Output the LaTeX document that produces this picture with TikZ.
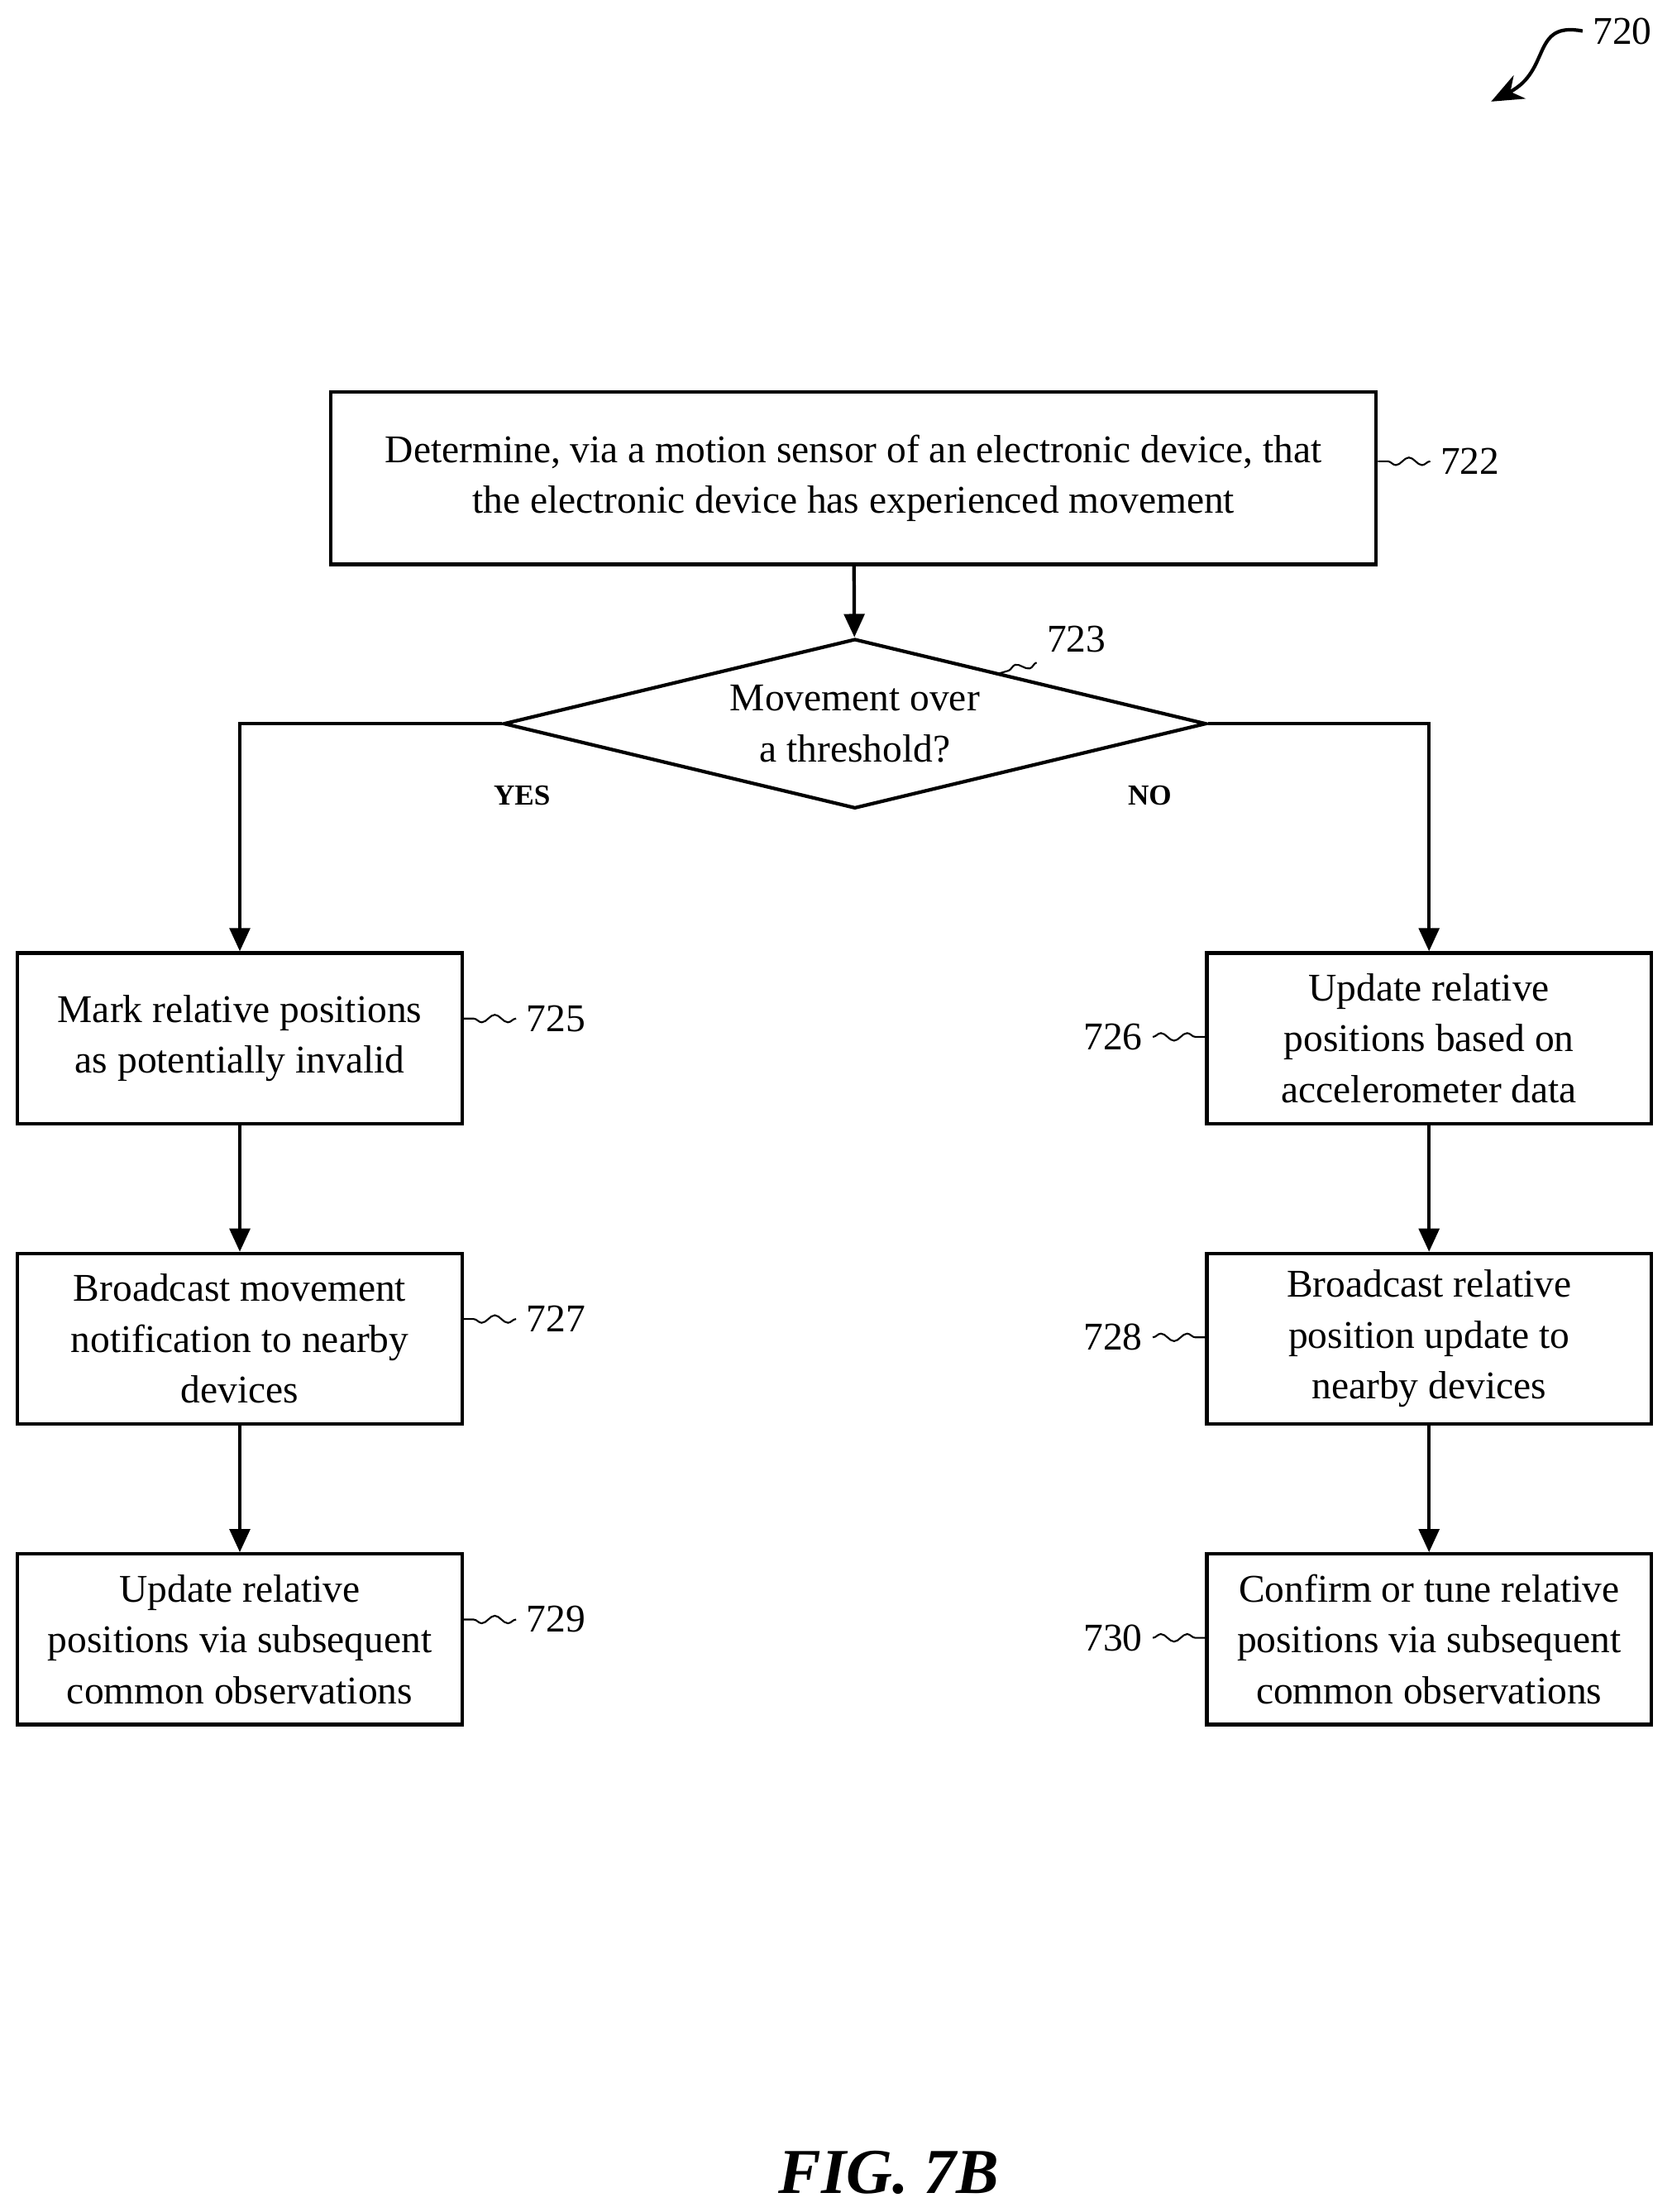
\documentclass[tikz,border=0pt]{standalone}
\usepackage{fontspec}
\setmainfont{Liberation Serif}
\usetikzlibrary{arrows.meta,positioning,shapes.geometric,decorations.pathmorphing}
\begin{document}
\begin{tikzpicture}[x=0.01705cm,y=-0.01705cm,font=\fontsize{13.5}{17.5}\selectfont]
  \tikzset{stepbox/.style = {shape=rectangle,draw,line width=1.2pt,minimum width=5.37cm,minimum height=2.06cm,align=center,inner sep=2pt}}
  \tikzset{test/.style = {shape=diamond,draw,line width=1.2pt,aspect=4.15,minimum width=8.49cm,minimum height=2.05cm,inner sep=0pt,align=center}}
  \tikzset{flow/.style = {draw,line width=1.2pt,-{Triangle[length=8pt,width=7pt]}}}
  \tikzset{lead/.style = {draw,line width=0.6pt,decorate,decoration={snake,amplitude=1.3pt,segment length=9pt}}}
  \useasboundingbox (0,0) rectangle (1185,1568);

	\node[stepbox,minimum width=12.63cm,minimum height=2.08cm] (D) at (605,339) {Determine, via a motion sensor of an electronic device, that\\the electronic device has experienced movement};
	\node[test] (T) at (606,513) {Movement over\\a threshold?};

	\node[stepbox] (Y1) at (170,736) {Mark relative positions\\as potentially invalid};
	\node[stepbox] (Y2) at (170,949) {Broadcast movement\\notification to nearby\\devices};
	\node[stepbox] (Y3) at (170,1162) {Update relative\\positions via subsequent\\common observations};

	\node[stepbox] (N1) at (1013,736) {Update relative\\positions based on\\accelerometer data};
	\node[stepbox] (N2) at (1013,949) {Broadcast relative\\position update to\\nearby devices};
	\node[stepbox] (N3) at (1013,1162) {Confirm or tune relative\\positions via subsequent\\common observations};

	% reference numerals
	\node (l720) at (1150,22) {720};
	\node (l722) at (1042,327) {722};
	\node (l723) at (763,453) {723};
	\node (l725) at (394,722) {725};
	\node (l727) at (394,935) {727};
	\node (l729) at (394,1148) {729};
	\node (l726) at (789,735) {726};
	\node (l728) at (789,948) {728};
	\node (l730) at (789,1161) {730};

	\node[font=\bfseries] (yes) at (370,564) {YES};
	\node[font=\bfseries] (no) at (815,564) {NO};
	\node[font=\fontsize{22}{26}\selectfont\bfseries\itshape] (fig) at (630,1540) {FIG. 7B};

	\path[flow] (D) -- (T);
	\path[flow] (T.west) -| (Y1.north);
	\path[flow] (T.east) -| (N1.north);
	\path[flow] (Y1) -- (Y2);
	\path[flow] (Y2) -- (Y3);
	\path[flow] (N1) -- (N2);
	\path[flow] (N2) -- (N3);

	\draw[line width=1.2pt,-{Stealth[length=11pt,width=9pt]}] (l720.west) .. controls (1085,15) and (1100,50) .. (1057,72);

	\path[lead] (l722.west) -- (D.east |- l722.west);
	\path[lead] (l723.south west) -- (706,478);
	\foreach \from/\to in {l725/Y1, l727/Y2, l729/Y3}
	  \path[lead] (\from.west) -- (\to.east |- \from.west);
	\foreach \from/\to in {l726/N1, l728/N2, l730/N3}
	  \path[lead] (\from.east) -- (\to.west |- \from.east);
\end{tikzpicture}
\end{document}
